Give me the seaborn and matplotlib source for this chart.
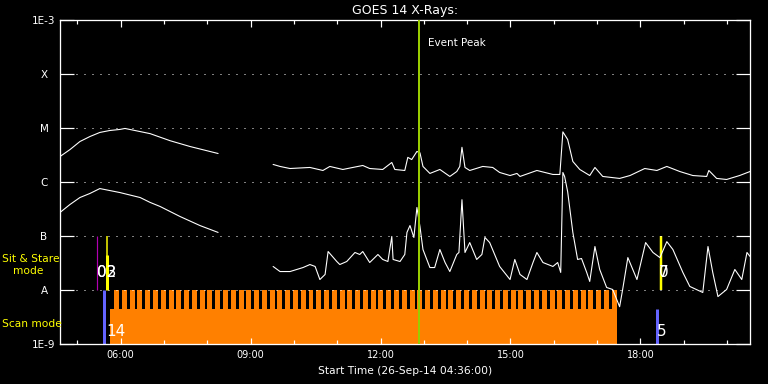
import numpy as np
import pandas as pd
import matplotlib
matplotlib.use("Agg")
import matplotlib.pyplot as plt
from matplotlib.ticker import FixedLocator, NullLocator
import seaborn as sns

# ---------------- data (time in decimal hours of 26-Sep-14) ----------------
T_START, T_END = 4.60, 20.53

# long channel (1-8 A), two segments separated by a data gap
long_t1 = [4.60, 4.83, 5.06, 5.29, 5.52, 5.75, 5.98, 6.10, 6.68, 7.14, 7.60, 8.06, 8.25]
long_f1 = [2.9e-6, 3.9e-6, 5.5e-6, 6.8e-6, 8.1e-6, 8.8e-6, 9.2e-6, 9.6e-6, 7.7e-6,
           5.7e-6, 4.45e-6, 3.6e-6, 3.3e-6]
long_t2 = [9.52, 9.68, 9.91, 10.37, 10.67, 10.83, 11.13, 11.36, 11.59, 11.75, 12.05,
           12.26, 12.33, 12.56, 12.63, 12.72, 12.84, 12.91, 12.98, 13.14, 13.37, 13.60,
           13.76, 13.83, 13.88, 13.95, 14.06, 14.36, 14.59, 14.75, 14.99, 15.15, 15.22,
           15.61, 15.98, 16.14, 16.21, 16.32, 16.44, 16.60, 16.83, 16.95, 17.13, 17.52,
           17.76, 18.10, 18.38, 18.61, 18.91, 19.21, 19.53, 19.58, 19.76, 19.99, 20.29,
           20.53]
long_f2 = [2.07e-6, 1.9e-6, 1.74e-6, 1.82e-6, 1.6e-6, 1.9e-6, 1.67e-6, 1.82e-6, 1.98e-6,
           1.74e-6, 1.67e-6, 2.25e-6, 1.67e-6, 1.6e-6, 2.8e-6, 2.55e-6, 3.6e-6, 3.4e-6,
           1.9e-6, 1.41e-6, 1.67e-6, 1.24e-6, 1.53e-6, 1.9e-6, 4.3e-6, 1.82e-6, 1.6e-6,
           1.9e-6, 1.82e-6, 1.47e-6, 1.29e-6, 1.41e-6, 1.24e-6, 1.6e-6, 1.35e-6, 1.35e-6,
           8.3e-6, 6.0e-6, 2.35e-6, 1.67e-6, 1.29e-6, 1.82e-6, 1.24e-6, 1.14e-6, 1.29e-6,
           1.74e-6, 1.6e-6, 1.9e-6, 1.53e-6, 1.29e-6, 1.24e-6, 1.6e-6, 1.14e-6, 1.09e-6,
           1.29e-6, 1.53e-6]

# short channel (0.5-4 A)
short_t1 = [4.60, 4.83, 5.06, 5.29, 5.52, 5.75, 5.98, 6.45, 6.68, 6.91, 7.37, 7.83, 8.25]
short_f1 = [2.67e-7, 3.75e-7, 5.05e-7, 6.0e-7, 7.4e-7, 6.8e-7, 6.25e-7, 5.05e-7, 4.1e-7,
            3.45e-7, 2.25e-7, 1.53e-7, 1.14e-7]
short_t2 = [9.52, 9.68, 9.91, 10.21, 10.37, 10.49, 10.60, 10.72, 10.79, 10.99, 11.06,
            11.22, 11.41, 11.52, 11.59, 11.75, 11.94, 12.05, 12.17, 12.26, 12.29, 12.45,
            12.56, 12.61, 12.68, 12.77, 12.84, 12.91, 12.98, 13.14, 13.25, 13.37, 13.49,
            13.60, 13.76, 13.81, 13.88, 13.95, 14.06, 14.22, 14.34, 14.41, 14.52, 14.75,
            14.99, 15.10, 15.22, 15.38, 15.52, 15.61, 15.75, 15.98, 16.09, 16.16, 16.21,
            16.25, 16.32, 16.44, 16.55, 16.64, 16.76, 16.83, 16.95, 17.06, 17.22, 17.36,
            17.52, 17.59, 17.71, 17.92, 18.12, 18.29, 18.45, 18.61, 18.75, 18.98, 19.14,
            19.44, 19.56, 19.67, 19.79, 19.99, 20.18, 20.34, 20.46, 20.53]
short_f2 = [2.67e-8, 2.15e-8, 2.15e-8, 2.55e-8, 2.9e-8, 2.67e-8, 1.53e-8, 1.9e-8, 5.05e-8,
            3.3e-8, 2.9e-8, 3.3e-8, 4.85e-8, 4.45e-8, 5.05e-8, 3.16e-8, 4.45e-8, 3.6e-8,
            3.3e-8, 9.6e-8, 3.6e-8, 3.3e-8, 4.45e-8, 1.14e-7, 1.53e-7, 9.2e-8, 3.3e-7,
            1.47e-7, 5.5e-8, 2.55e-8, 2.55e-8, 5.5e-8, 3.16e-8, 2.15e-8, 4.45e-8, 4.85e-8,
            4.6e-7, 4.85e-8, 7.4e-8, 3.6e-8, 4.45e-8, 9.2e-8, 7.4e-8, 2.67e-8, 1.53e-8,
            3.6e-8, 1.9e-8, 1.53e-8, 3.16e-8, 4.85e-8, 3.16e-8, 2.67e-8, 3.16e-8, 2.07e-8,
            1.47e-6, 1.24e-6, 6.5e-7, 1.14e-7, 3.6e-8, 3.75e-8, 2.07e-8, 1.41e-8, 6.25e-8,
            2.35e-8, 1.09e-8, 1.0e-8, 4.8e-9, 1.0e-8, 3.9e-8, 1.53e-8, 7.4e-8, 4.85e-8,
            3.9e-8, 7.7e-8, 5.5e-8, 2.07e-8, 1.14e-8, 8.8e-9, 6.25e-8, 2.07e-8, 7.4e-9,
            1.0e-8, 2.35e-8, 1.53e-8, 4.85e-8, 4.1e-8]

# instrument modes
scan_start, scan_end = 5.76, 17.47          # orange scan-mode block
scan_stripe_first, scan_period, scan_stripe_w = 5.85, 0.1795, 0.115
scan_low, scan_high, scan_base_top = 1e-9, 1e-8, 4.3e-9
event_peak = 12.89

class_levels = [1e-9, 1e-8, 1e-7, 1e-6, 1e-5, 1e-4, 1e-3]
class_labels = ["1E-9", "A", "B", "C", "M", "X", "1E-3"]
major_hours = [6, 9, 12, 15, 18]
major_labels = ["06:00", "09:00", "12:00", "15:00", "18:00"]
minor_hours = list(range(5, 21))

# ---------------- style ----------------
sns.set_theme(style="white", rc={
    "figure.facecolor": "black", "axes.facecolor": "black",
    "axes.edgecolor": "white", "text.color": "white",
    "xtick.color": "white", "ytick.color": "white",
})
plt.rcParams["font.family"] = ["DejaVu Sans"]

W, H = 768, 384
fig = plt.figure(figsize=(W / 100, H / 100), dpi=100, facecolor="black")
ax = fig.add_axes([60 / W, 1 - 343.5 / H, 690 / W, 324 / H])
ax.set_facecolor("black")
ax.set_yscale("log")

ORANGE = "#FF8000"
px = 0.72  # one pixel in points

# scan mode bars
ax.bar([scan_start], [scan_base_top - scan_low], bottom=scan_low,
       width=scan_end - scan_start, align="edge", color=ORANGE, linewidth=0, zorder=1)
n_stripes = int((scan_end - scan_stripe_first) / scan_period) + 1
stripe_x = scan_stripe_first + scan_period * np.arange(n_stripes)
stripe_x = stripe_x[stripe_x + scan_stripe_w <= scan_end + 0.01]
ax.bar(stripe_x, scan_high - scan_low, bottom=scan_low, width=scan_stripe_w,
       align="edge", color=ORANGE, linewidth=0, zorder=1)

# mode markers
ax.vlines(5.62, 1e-9, 1e-8, color="#6464FF", lw=3 * px, zorder=2)
ax.vlines(18.39, 1e-9, scan_base_top, color="#6464FF", lw=3 * px, zorder=2)
ax.vlines(5.46, 1e-8, 1e-7, color="#B000B0", lw=1.2 * px, zorder=2)
ax.vlines(5.69, 1e-8, 1e-7, color="#FFFF00", lw=1.5 * px, zorder=2)
ax.vlines(5.675, 1e-8, 4.3e-8, color="#FFFF00", lw=3 * px, zorder=2)
ax.vlines(18.47, 1e-8, 1e-7, color="#FFFF00", lw=2.5 * px, zorder=2)

lbl_kw = dict(fontsize=11, color="white", va="center", ha="left", zorder=5)
ax.text(5.46, 2.1e-8, "02", **lbl_kw)
ax.text(5.46, 2.1e-8, "03", **lbl_kw)
ax.text(5.66, 1.67e-9, "14", **lbl_kw)
ax.text(18.39, 1.67e-9, "5", **lbl_kw)
ax.text(18.43, 2.1e-8, "0", **lbl_kw)
ax.text(18.43, 2.1e-8, "7", **lbl_kw)

# flux curves
df = pd.concat([
    pd.DataFrame({"time": long_t1, "flux": long_f1, "seg": "L1"}),
    pd.DataFrame({"time": long_t2, "flux": long_f2, "seg": "L2"}),
    pd.DataFrame({"time": short_t1, "flux": short_f1, "seg": "S1"}),
    pd.DataFrame({"time": short_t2, "flux": short_f2, "seg": "S2"}),
], ignore_index=True)
sns.lineplot(data=df, x="time", y="flux", units="seg", estimator=None, sort=False,
             color="white", lw=1.1 * px, ax=ax, legend=False, zorder=3)

# event peak
ax.axvline(event_peak, color="#99CC00", lw=2 * px, zorder=4)
ax.text(event_peak + 0.2, 3.75e-4, "Event Peak", fontsize=7.5, color="white",
        va="center", ha="left")

# axes
ax.set_xlim(T_START, T_END)
ax.set_ylim(1e-9, 1e-3)
ax.yaxis.set_major_locator(FixedLocator(class_levels))
ax.yaxis.set_minor_locator(NullLocator())
ax.set_yticklabels(class_labels)
for t in ax.get_yticklabels():
    t.set_ha("center")
ax.tick_params(axis="y", which="major", direction="in", length=14 * px, width=1.2 * px,
               left=True, right=True, pad=11.5, labelsize=7.5, colors="white")
ax.xaxis.set_major_locator(FixedLocator(major_hours))
ax.xaxis.set_minor_locator(FixedLocator(minor_hours))
ax.set_xticklabels(major_labels)
ax.tick_params(axis="x", which="major", direction="in", length=6.5 * px, width=1.2 * px,
               top=True, bottom=True, pad=5, labelsize=7, colors="white")
ax.tick_params(axis="x", which="minor", direction="in", length=4 * px, width=1.2 * px,
               top=True, bottom=True, colors="white")
ax.grid(axis="y", which="major", color="white", linestyle=(0, (1, 7)), linewidth=px,
        zorder=1.5)
ax.grid(axis="x", visible=False)
ax.set_axisbelow(False)
for s in ax.spines.values():
    s.set_color("white")
    s.set_linewidth(1.3 * px)
ax.set_xlabel("Start Time (26-Sep-14 04:36:00)", fontsize=7.7, color="white", labelpad=4)
ax.set_ylabel("")
ax.set_title("GOES 14 X-Rays:", fontsize=9, color="white", pad=4)

# mode captions at left
fig.text(2 / W, 1 - 259 / H, "Sit & Stare", fontsize=7.7, color="#FFFF00", va="center", ha="left")
fig.text(13 / W, 1 - 271 / H, "mode", fontsize=7.7, color="#FFFF00", va="center", ha="left")
fig.text(2 / W, 1 - 324 / H, "Scan mode", fontsize=7.7, color="#FFFF00", va="center", ha="left")

fig.savefig("out.png", dpi=100, facecolor="black")
